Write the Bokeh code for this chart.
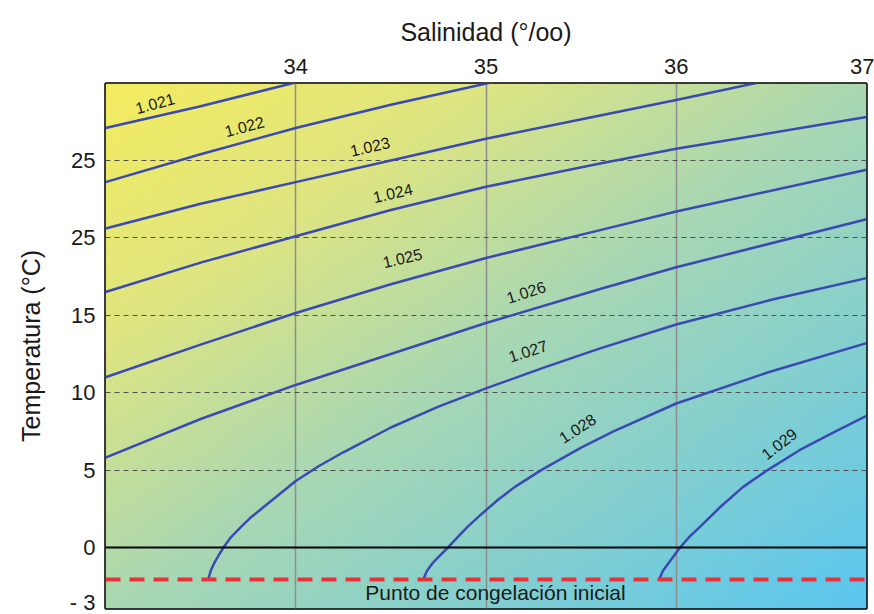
import numpy as np
from bokeh.plotting import figure
from bokeh.models import FixedTicker, Span, Range1d
from bokeh.core.properties import value
from bokeh.embed import file_html
from bokeh.resources import INLINE

# ---------------- data ----------------
S_MIN, S_MAX = 33.0, 37.0
T_MIN, T_MAX = -3.94, 29.97

SAL_TICKS = [34, 35, 36, 37]
TEMP_TICKS = [-3.75, 0, 5, 10, 15, 20, 25]
TEMP_TICK_LABELS = ["- 3", "0", "5", "10", "15", "25", "25"]
SOLID_SALS = [34, 35, 36]
DASHED_TEMPS = [5, 10, 15, 20, 25]
FREEZE_T = -2.07

S_1021 = [33.0, 33.5, 34.02]
T_1021 = [27.1, 28.5, 30.1]

S_1022 = [33.0, 33.5, 34.0, 34.5, 35.05]
T_1022 = [23.6, 25.4, 27.1, 28.6, 30.1]

S_1023 = [33.0, 33.5, 34.0, 34.5, 35.0, 35.6, 36.0, 36.42]
T_1023 = [20.6, 22.2, 23.6, 25.0, 26.4, 27.9, 28.9, 30.0]

S_1024 = [33.0, 33.5, 34.0, 34.5, 35.0, 35.6, 36.0, 37.0]
T_1024 = [16.5, 18.4, 20.1, 21.8, 23.3, 24.8, 25.75, 27.8]

S_1025 = [33.0, 33.5, 34.0, 34.5, 35.0, 35.6, 36.0, 37.0]
T_1025 = [11.0, 13.1, 15.15, 17.0, 18.7, 20.5, 21.7, 24.4]

S_1026 = [33.0, 33.5, 34.0, 34.5, 35.0, 35.6, 36.0, 37.0]
T_1026 = [5.8, 8.3, 10.5, 12.5, 14.5, 16.7, 18.1, 21.2]

S_1027 = [33.54, 33.553, 33.572, 33.595, 33.62, 33.655, 33.71, 33.76, 33.82, 33.88,
          33.94, 34.0, 34.12, 34.25, 34.5, 34.75, 35.0, 35.3, 35.6, 36.0, 36.5, 37.0]
T_1027 = [-2.07, -1.5, -1.0, -0.5, 0.0, 0.6, 1.3, 1.9, 2.5, 3.1,
          3.7, 4.3, 5.25, 6.15, 7.75, 9.1, 10.28, 11.6, 12.86, 14.4, 16.0, 17.4]

S_1028 = [34.67, 34.69, 34.72, 34.76, 34.80, 34.85, 34.90, 34.98, 35.06, 35.15, 35.29,
          35.50, 35.67, 36.0, 36.48, 37.0]
T_1028 = [-2.07, -1.5, -1.0, -0.5, 0.0, 0.65, 1.3, 2.2, 3.05, 3.9, 5.0,
          6.45, 7.5, 9.3, 11.3, 13.2]

S_1029 = [35.91, 35.93, 35.96, 35.99, 36.02, 36.07, 36.13, 36.23, 36.35, 36.48,
          36.65, 36.83, 37.0]
T_1029 = [-2.07, -1.5, -1.0, -0.5, 0.0, 0.7, 1.4, 2.6, 3.9, 5.0,
          6.3, 7.45, 8.5]

LABEL_TEXT = ["1.021", "1.022", "1.023", "1.024", "1.025", "1.026", "1.027", "1.028", "1.029"]
LABEL_S = [33.26, 33.73, 34.39, 34.51, 34.56, 35.21, 35.22, 35.48, 36.54]
LABEL_T = [28.7, 27.2, 25.9, 22.9, 18.7, 16.5, 12.7, 7.7, 6.7]
LABEL_ANGLE = [15, 15, 13, 13, 13, 18, 18, 33, 38]

FREEZE_TEXT = "Punto de congelación inicial"
FREEZE_TEXT_S = 35.05
FREEZE_TEXT_T = -2.9

CURVES = [(S_1021, T_1021), (S_1022, T_1022), (S_1023, T_1023), (S_1024, T_1024),
          (S_1025, T_1025), (S_1026, T_1026), (S_1027, T_1027), (S_1028, T_1028),
          (S_1029, T_1029)]

# ---------------- figure ----------------
FONT = "Liberation Sans"
p = figure(width=874, height=614,
           x_range=Range1d(S_MIN, S_MAX), y_range=Range1d(T_MIN, T_MAX),
           x_axis_location="above", y_axis_location="left",
           output_backend="svg", toolbar_location=None,
           min_border_left=105, min_border_right=8, min_border_top=83, min_border_bottom=6)
p.background_fill_color = "white"
p.border_fill_color = "white"
p.outline_line_color = "black"
p.outline_line_width = 2.5

# gradient background (style only)
H, W = 120, 180
u = np.linspace(0, 1, W)[None, :]
v = 1.0 - np.linspace(0, 1, H)[:, None]  # row 0 = bottom
t = (u + v) / 2.0
stops = [0.0, 0.25, 0.5, 1.0]
cols = np.array([[244, 236, 96], [222, 229, 130], [170, 216, 178], [90, 198, 240]], dtype=float)
img = np.zeros((H, W, 4), dtype=np.uint8)
for c in range(3):
    img[:, :, c] = np.interp(t, stops, cols[:, c]).astype(np.uint8)
img[:, :, 3] = 255
img32 = img.view(dtype=np.uint32).reshape((H, W))
p.image_rgba(image=[img32], x=S_MIN, y=T_MIN, dw=S_MAX - S_MIN, dh=T_MAX - T_MIN, level="image")

# grids
p.xgrid.ticker = FixedTicker(ticks=SOLID_SALS)
p.xgrid.grid_line_color = "#8d8d8d"
p.xgrid.grid_line_width = 1.5
p.ygrid.ticker = FixedTicker(ticks=DASHED_TEMPS)
p.ygrid.grid_line_color = "#505050"
p.ygrid.grid_line_width = 1
p.ygrid.grid_line_dash = "5 4"

# reference lines
p.add_layout(Span(location=0, dimension="width", line_color="black", line_width=2))
p.add_layout(Span(location=FREEZE_T, dimension="width", line_color="#e8323a",
                  line_width=4, line_dash="15 9"))

# density curves
for s, tt in CURVES:
    p.line(s, tt, line_color="#3a4ab2", line_width=2.5, line_join="round")

p.text(x=LABEL_S, y=LABEL_T, text=LABEL_TEXT, angle=LABEL_ANGLE, angle_units="deg",
       text_font=value(FONT), text_font_size="16px", text_align="center",
       text_baseline="middle", text_color="#1a1a1a")

p.text(x=[FREEZE_TEXT_S], y=[FREEZE_TEXT_T], text=[FREEZE_TEXT],
       text_font=value(FONT), text_font_size="21px", text_align="center",
       text_baseline="middle", text_color="#1a1a1a")

# axes
for ax in (p.xaxis, p.yaxis):
    ax.axis_line_color = None
    ax.major_tick_line_color = None
    ax.minor_tick_line_color = None
    ax.major_tick_out = 0
    ax.major_tick_in = 0
    ax.major_label_standoff = 10
    ax.major_label_text_font = FONT
    ax.major_label_text_font_size = "22px"
    ax.major_label_text_color = "#1a1a1a"
    ax.axis_label_text_font = FONT
    ax.axis_label_text_font_size = "25px"
    ax.axis_label_text_font_style = "normal"
    ax.axis_label_text_color = "#1a1a1a"

p.xaxis.ticker = FixedTicker(ticks=SAL_TICKS)
p.xaxis.axis_label = "Salinidad (°/oo)"
p.xaxis.axis_label_standoff = 10

p.yaxis.ticker = FixedTicker(ticks=TEMP_TICKS)
p.yaxis.major_label_overrides = {k: v for k, v in zip(TEMP_TICKS, TEMP_TICK_LABELS)}
p.yaxis.axis_label = "Temperatura (°C)"
p.yaxis.axis_label_standoff = 22

open("out.html", "w").write(file_html(p, INLINE))
